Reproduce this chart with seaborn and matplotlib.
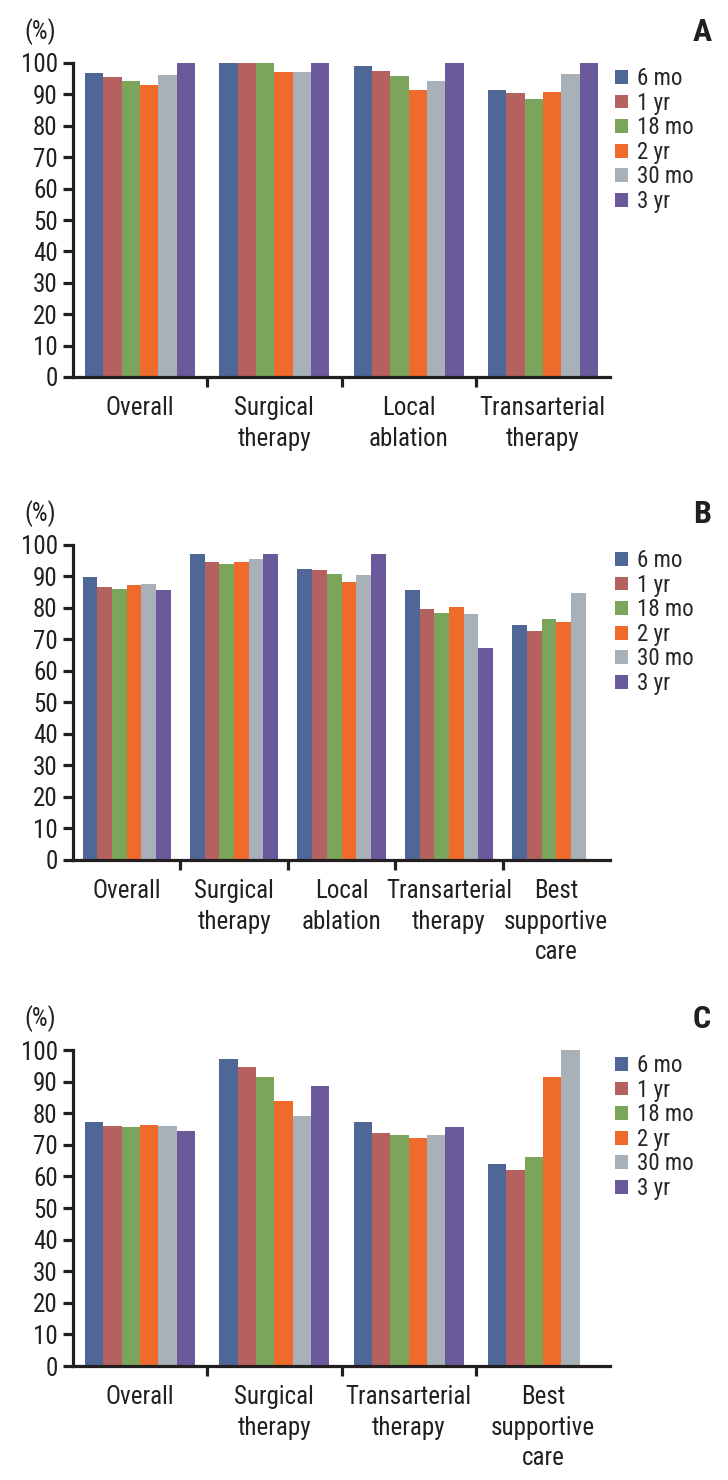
import matplotlib
matplotlib.use("Agg")
import matplotlib.pyplot as plt
import numpy as np
import pandas as pd
import seaborn as sns

# periods / legend
periods = ["6 mo", "1 yr", "18 mo", "2 yr", "30 mo", "3 yr"]
colors = ["#4f6797", "#b5615f", "#7aa55a", "#ef6b2c", "#a8b0b8", "#6a5a9c"]

# panel A
groups_a = ["Overall", "Surgical\ntherapy", "Local\nablation", "Transarterial\ntherapy"]
overall_a = [96.8, 95.5, 94.3, 93.0, 96.2, 100]
surgical_a = [100, 100, 100, 97.1, 97.1, 100]
ablation_a = [99.0, 97.5, 95.9, 91.4, 94.3, 100]
tace_a = [91.4, 90.4, 88.5, 90.8, 96.5, 100]

# panel B
groups_b = ["Overall", "Surgical\ntherapy", "Local\nablation", "Transarterial\ntherapy", "Best\nsupportive\ncare"]
overall_b = [89.8, 86.7, 86.0, 87.3, 87.6, 85.7]
surgical_b = [97.1, 94.6, 94.0, 94.6, 95.6, 97.1]
ablation_b = [92.4, 92.1, 90.8, 88.3, 90.5, 97.1]
tace_b = [85.7, 79.7, 78.4, 80.3, 78.1, 67.3]
bsc_b = [74.6, 72.7, 76.5, 75.6, 84.8, np.nan]

# panel C
groups_c = ["Overall", "Surgical\ntherapy", "Transarterial\ntherapy", "Best\nsupportive\ncare"]
overall_c = [77.2, 75.9, 75.6, 76.3, 75.9, 74.4]
surgical_c = [97.2, 94.6, 91.5, 83.9, 79.1, 88.6]
tace_c = [77.2, 73.7, 73.1, 72.2, 73.1, 75.6]
bsc_c = [63.9, 62.0, 66.1, 91.5, 100, np.nan]

panels = [
    ("A", groups_a, [overall_a, surgical_a, ablation_a, tace_a]),
    ("B", groups_b, [overall_b, surgical_b, ablation_b, tace_b, bsc_b]),
    ("C", groups_c, [overall_c, surgical_c, tace_c, bsc_c]),
]

sns.set_theme(style="white")
plt.rcParams["font.family"] = ["Roboto Condensed", "Archivo Narrow", "Roboto", "DejaVu Sans"]
dark = "#231f20"

W, H = 728, 1480
fig = plt.figure(figsize=(W / 100, H / 100), dpi=100)

# axes boxes in pixels: (top, bottom)
boxes = [(63, 377), (545, 860), (1050, 1366)]
left_px, right_px = 73, 610

for (letter, groups, vals), (top, bot) in zip(panels, boxes):
    ax = fig.add_axes([left_px / W, 1 - bot / H, (right_px - left_px) / W, (bot - top) / H])
    rows = []
    for g, v in zip(groups, vals):
        for p, x in zip(periods, v):
            rows.append((g, p, x))
    df = pd.DataFrame(rows, columns=["group", "period", "value"]).dropna()

    sns.barplot(data=df, x="group", y="value", hue="period", order=groups,
                hue_order=periods, palette=colors, width=0.82, saturation=1,
                errorbar=None, ax=ax, linewidth=0)

    n = len(groups)
    ax.set_xlim(-0.5, n - 0.5)
    ax.set_ylim(0, 100)
    ax.set_yticks(range(0, 101, 10))
    ax.set_xlabel("")
    ax.set_ylabel("")
    for s in ["top", "right"]:
        ax.spines[s].set_visible(False)
    for s in ["left", "bottom"]:
        ax.spines[s].set_linewidth(2.3)
        ax.spines[s].set_color(dark)
    ax.tick_params(axis="y", direction="out", length=7, width=2.3, color=dark,
                   labelsize=18, labelcolor=dark, pad=4, left=True)
    ax.tick_params(axis="x", which="major", length=0, labelsize=18,
                   labelcolor=dark, pad=14)
    ax.set_xticks(np.arange(n - 1) + 0.5, minor=True)
    ax.tick_params(axis="x", which="minor", direction="out", length=7,
                   width=2.3, color=dark, bottom=True)
    for t in ax.get_xticklabels():
        t.set_linespacing(1.32)

    handles, labels = ax.get_legend_handles_labels()
    ax.legend(handles, labels, loc="upper left",
              bbox_to_anchor=(615 / W, 1 - (top + 4) / H), bbox_transform=fig.transFigure,
              frameon=False, fontsize=16.5, handlelength=0.55, handleheight=0.55,
              handletextpad=0.4, labelspacing=0.07, borderaxespad=0, borderpad=0)

    fig.text(40 / W, 1 - (top - 31) / H, "(%)", fontsize=18, color=dark,
             ha="center", va="center")
    fig.text(702 / W, 1 - (top - 31) / H, letter, fontsize=23, color=dark,
             ha="center", va="center", fontweight="bold")

fig.savefig("out.png", dpi=100)
